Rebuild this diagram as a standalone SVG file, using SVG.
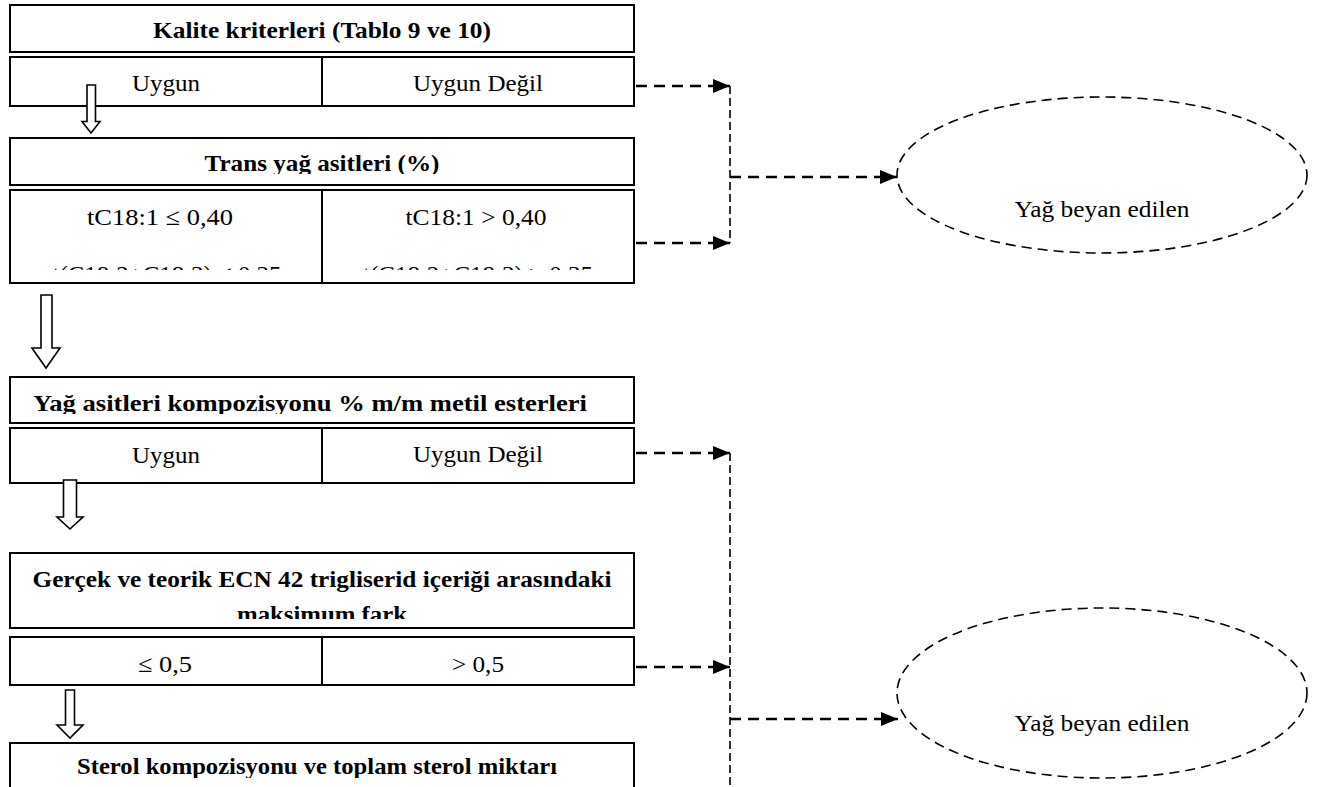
<svg xmlns="http://www.w3.org/2000/svg" width="1325" height="787" viewBox="0 0 1325 787">
  <style>
    .box { fill: #fff; stroke: #000; stroke-width: 2; }
    .div { stroke: #000; stroke-width: 2; }
    .hd { font-family: "Liberation Serif", "Times New Roman", serif; font-weight: bold; font-size: 23.5px; fill: #000; text-anchor: middle; }
    .tx { font-family: "Liberation Serif", "Times New Roman", serif; font-size: 24px; fill: #000; text-anchor: middle; }
    .down { fill: #fff; stroke: #000; stroke-width: 1.6; stroke-linejoin: miter; }
    .dh { fill: none; stroke: #000; stroke-width: 2.5; stroke-dasharray: 11 7; }
    .dv { fill: none; stroke: #000; stroke-width: 1.6; stroke-dasharray: 8 4; }
    .oval { fill: #fff; stroke: #000; stroke-width: 1.6; stroke-dasharray: 10 6; }
  </style>
  <defs>
    <marker id="tri" viewBox="0 0 17 14" refX="17" refY="7" markerWidth="17" markerHeight="14" markerUnits="userSpaceOnUse" orient="auto">
      <path d="M0,0 L17,7 L0,14 Z" fill="#000"/>
    </marker>
    <clipPath id="clipTrans"><rect x="10" y="138" width="624" height="36"/></clipPath>
    <clipPath id="clipTransRow"><rect x="10" y="190" width="624" height="80"/></clipPath>
    <clipPath id="clipFatty"><rect x="10" y="377" width="624" height="37"/></clipPath>
    <clipPath id="clipEcn"><rect x="10" y="553" width="624" height="66"/></clipPath>
    <clipPath id="clipSterol"><rect x="10" y="743" width="624" height="35"/></clipPath>
  </defs>

  <rect width="1325" height="787" fill="#fff"/>

  <!-- quality criteria -->
  <g id="quality">
    <rect class="box" x="10" y="5" width="624" height="47"/>
    <text class="hd" x="322" y="38" textLength="338" lengthAdjust="spacingAndGlyphs">Kalite kriterleri (Tablo 9 ve 10)</text>
    <rect class="box" x="10" y="57" width="624" height="49"/>
    <line class="div" x1="322" y1="57" x2="322" y2="106"/>
    <text class="tx" x="166" y="91" textLength="68" lengthAdjust="spacingAndGlyphs">Uygun</text>
    <text class="tx" x="478" y="91" textLength="130" lengthAdjust="spacingAndGlyphs">Uygun Değil</text>
  </g>

  <!-- trans fatty acids -->
  <g id="trans">
    <rect class="box" x="10" y="138" width="624" height="47"/>
    <text class="hd" x="322" y="171" textLength="235" lengthAdjust="spacingAndGlyphs" clip-path="url(#clipTrans)">Trans yağ asitleri (%)</text>
    <rect class="box" x="10" y="190" width="624" height="93"/>
    <line class="div" x1="322" y1="190" x2="322" y2="283"/>
    <g clip-path="url(#clipTransRow)">
      <text class="tx" x="160" y="225" textLength="146" lengthAdjust="spacingAndGlyphs">tC18:1 ≤ 0,40</text>
      <text class="tx" x="476" y="225" textLength="141" lengthAdjust="spacingAndGlyphs">tC18:1 &gt; 0,40</text>
      <text class="tx" x="167" y="282" textLength="229" lengthAdjust="spacingAndGlyphs">t(C18:2+C18:3) ≤ 0,35</text>
      <text class="tx" x="478" y="282" textLength="230" lengthAdjust="spacingAndGlyphs">t(C18:2+C18:3) &gt; 0,35</text>
    </g>
  </g>

  <!-- fatty acid composition -->
  <g id="fatty-acids">
    <rect class="box" x="10" y="377" width="624" height="46"/>
    <text class="hd" x="310" y="411" textLength="554" lengthAdjust="spacingAndGlyphs" clip-path="url(#clipFatty)">Yağ asitleri kompozisyonu % m/m metil esterleri</text>
    <rect class="box" x="10" y="428" width="624" height="55"/>
    <line class="div" x1="322" y1="428" x2="322" y2="483"/>
    <text class="tx" x="166" y="463" textLength="68" lengthAdjust="spacingAndGlyphs">Uygun</text>
    <text class="tx" x="478" y="462" textLength="130" lengthAdjust="spacingAndGlyphs">Uygun Değil</text>
  </g>

  <!-- ECN 42 difference -->
  <g id="ecn42">
    <rect class="box" x="10" y="553" width="624" height="75"/>
    <g clip-path="url(#clipEcn)">
      <text class="hd" x="322" y="587" textLength="579" lengthAdjust="spacingAndGlyphs">Gerçek ve teorik ECN 42 trigliserid içeriği arasındaki</text>
      <text class="hd" x="322" y="622" textLength="170" lengthAdjust="spacingAndGlyphs">maksimum fark</text>
    </g>
    <rect class="box" x="10" y="637" width="624" height="48"/>
    <line class="div" x1="322" y1="637" x2="322" y2="685"/>
    <text class="tx" x="165" y="672" textLength="54" lengthAdjust="spacingAndGlyphs">≤ 0,5</text>
    <text class="tx" x="478" y="672" textLength="52" lengthAdjust="spacingAndGlyphs">&gt; 0,5</text>
  </g>

  <!-- sterol composition -->
  <g id="sterol">
    <rect class="box" x="10" y="743" width="624" height="60"/>
    <text class="hd" x="317" y="774" textLength="480" lengthAdjust="spacingAndGlyphs" clip-path="url(#clipSterol)">Sterol kompozisyonu ve toplam sterol miktarı</text>
  </g>

  <!-- declared-oil outcomes -->
  <g id="declared-1">
    <ellipse class="oval" cx="1102" cy="175" rx="205" ry="78"/>
    <text class="tx" x="1102" y="217" textLength="175" lengthAdjust="spacingAndGlyphs">Yağ beyan edilen</text>
  </g>
  <g id="declared-2">
    <ellipse class="oval" cx="1102" cy="693" rx="205" ry="85"/>
    <text class="tx" x="1102" y="731" textLength="175" lengthAdjust="spacingAndGlyphs">Yağ beyan edilen</text>
  </g>

  <!-- connectors -->
  <g id="connectors">
    <!-- hollow block arrows down the "pass" path -->
    <polygon class="down" points="87,85 95.5,85 95.5,121.5 100,121.5 91,133 82,121.5 87,121.5"/>
    <polygon class="down" points="41,295 52,295 52,348 60,348 46,368 32,348 41,348"/>
    <polygon class="down" points="63.5,480 76.5,480 76.5,517 83,517 70,529 57,517 63.5,517"/>
    <polygon class="down" points="65.5,690 74.5,690 74.5,725 83,725 70,738 57,725 65.5,725"/>

    <!-- dashed "fail" paths -->
    <line class="dh" x1="636" y1="86" x2="730" y2="86" marker-end="url(#tri)"/>
    <line class="dh" x1="636" y1="243" x2="730" y2="243" marker-end="url(#tri)"/>
    <line class="dv" x1="730" y1="86" x2="730" y2="243"/>
    <line class="dh" x1="730" y1="177" x2="897" y2="177" marker-end="url(#tri)"/>

    <line class="dh" x1="636" y1="453" x2="730" y2="453" marker-end="url(#tri)"/>
    <line class="dh" x1="636" y1="667" x2="730" y2="667" marker-end="url(#tri)"/>
    <line class="dv" x1="730" y1="453" x2="730" y2="787"/>
    <line class="dh" x1="730" y1="719" x2="898" y2="719" marker-end="url(#tri)"/>
  </g>
</svg>
